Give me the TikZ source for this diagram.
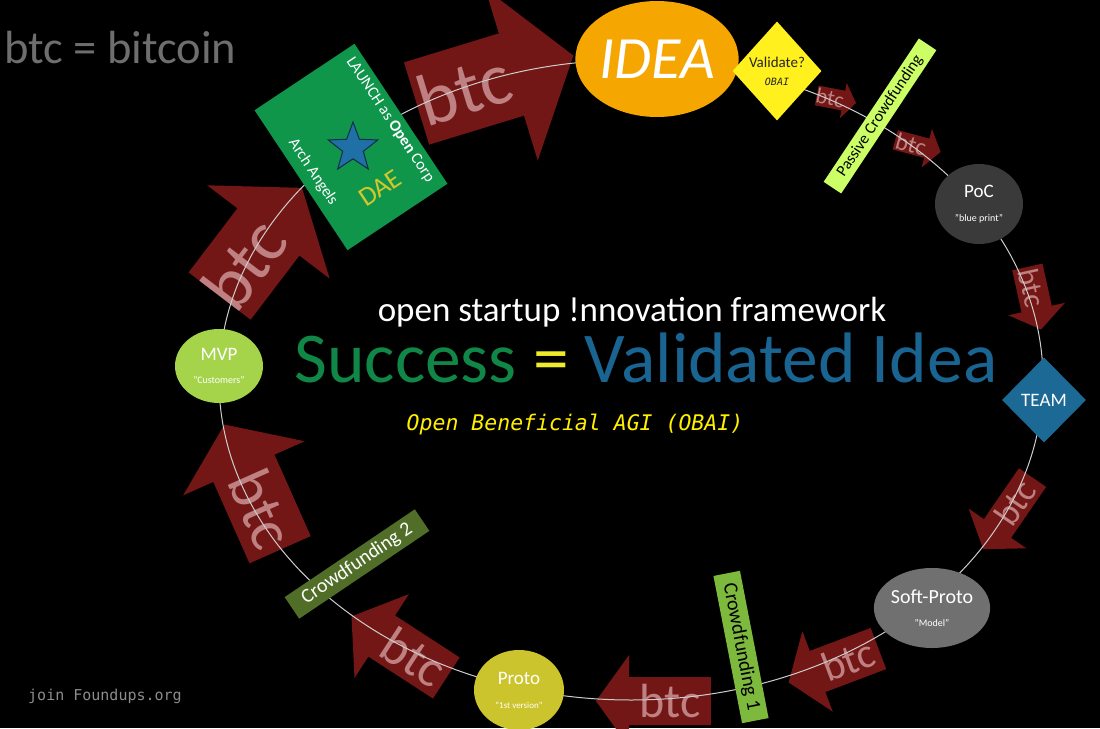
\documentclass[tikz,border=0pt]{standalone}
\usepackage{fontspec}
\setmainfont{Carlito}
\newfontfamily\obaifont{DejaVu Sans Mono}
\usetikzlibrary{shapes.geometric}

\definecolor{btcred}{RGB}{115,22,22}
\definecolor{btctext}{RGB}{190,128,128}
\definecolor{ringgray}{RGB}{205,205,205}
\definecolor{ideaorange}{RGB}{246,166,0}
\definecolor{validyellow}{RGB}{255,240,30}
\definecolor{passivegreen}{RGB}{204,255,102}
\definecolor{pocgray}{RGB}{58,58,58}
\definecolor{teamblue}{RGB}{28,105,150}
\definecolor{softgray}{RGB}{112,112,112}
\definecolor{protoyellow}{RGB}{204,196,44}
\definecolor{mvpgreen}{RGB}{165,212,75}
\definecolor{launchgreen}{RGB}{15,150,75}
\definecolor{crowdlime}{RGB}{125,185,60}
\definecolor{crowdolive}{RGB}{80,110,40}
\definecolor{starblue}{RGB}{32,112,168}
\definecolor{stardark}{RGB}{20,45,70}
\definecolor{daeyellow}{RGB}{212,199,42}
\definecolor{successgreen}{RGB}{16,135,70}
\definecolor{ideablue}{RGB}{25,100,145}
\definecolor{eqyellow}{RGB}{240,235,40}
\definecolor{obaiyellow}{RGB}{255,240,0}
\definecolor{legendgray}{RGB}{110,110,110}
\definecolor{joingray}{RGB}{140,140,140}

\newcommand\pxfont[1]{\fontsize{#1}{#1}\selectfont}

\begin{document}
\begin{tikzpicture}[x=1pt,y=-1pt,
    btclabel/.style={text=btctext, inner sep=0pt},
    stage/.style={ellipse, inner sep=0pt, text=white, align=center},
    band/.style={rectangle, inner sep=0pt, align=center},
    ring/.style={draw=ringgray, line width=1pt}]
    \useasboundingbox (0,0) rectangle (1100,728);
    \fill[black] (0,0) rectangle (1100,728);
    \clip (0,0) rectangle (1100,728);

    % btc arrows: name / x / y / text angle / flip / length / head / body / font
    \foreach \n/\x/\y/\r/\b/\len/\headw/\bodyw/\sz in {
        1/464/89/17/0/164/180/86/74,
        2/244/264/52.7/0/136/154/78/72,
        3/262/509/-66/180/137/133/67/62,
        4/414/657/-33/180/113/100/49/52,
        5/670/701/0/180/115/92/48/48,
        6/848/660/20.7/180/96/86/44/42,
        7/1015/503/55.5/180/87/70/33/36,
        8/1032/288/-77.6/0/64/58/31/30,
        9/830/98/-11/0/40/36/20/22,
        10/911/144/-15/0/47/40/20/24} {
        \pgfmathsetmacro{\dir}{\r+\b}
        \pgfmathsetmacro{\headl}{0.36*\headw}
        \pgfmathsetmacro{\halfl}{(\len-\headl)/2}
        \begin{scope}[shift={(\x,\y)}, rotate=\dir]
            \fill[btcred] (-\halfl,-\bodyw/2) -- (\halfl,-\bodyw/2) -- (\halfl,-\headw/2) -- (\halfl+\headl,0)
                -- (\halfl,\headw/2) -- (\halfl,\bodyw/2) -- (-\halfl,\bodyw/2) -- cycle;
        \end{scope}
        \node[btclabel, rotate=\r, font=\pxfont{\sz}] (btc\n) at (\x,\y) {btc};
    }

    % the cycle
    \draw[ring] (631,380) ellipse [x radius=412, y radius=320];

    % stages
    \node[stage, fill=ideaorange, minimum width=148, minimum height=116, font=\pxfont{60}\itshape] (idea) at (657,59) {IDEA};
    \node[diamond, fill=validyellow, minimum width=89, minimum height=99, inner sep=0pt, align=center,
          text=black!85, font=\pxfont{15}] (validate) at (777,71) {Validate?\\[3pt]{\obaifont\itshape\pxfont{10}OBAI}};
    \node[band, fill=passivegreen, rotate=56.4, minimum width=172, minimum height=21, font=\pxfont{16}] (passive) at (880,116) {Passive Crowdfunding};
    \node[stage, fill=pocgray, minimum width=88, minimum height=80, font=\pxfont{19}] (poc) at (979,204) {PoC\\[5pt]{\pxfont{10}"blue print"}};
    \node[diamond, fill=teamblue, minimum width=84, minimum height=85, inner sep=0pt, text=white, font=\pxfont{19}] (team) at (1044,400) {TEAM};
    \node[stage, fill=softgray, minimum width=89, minimum height=80, font=\pxfont{20}] (soft) at (932,608) {Soft-Proto\\[3pt]{\pxfont{10}"Model"}};
    \node[band, fill=crowdlime, rotate=-79, minimum width=150, minimum height=27, font=\pxfont{20}] (crowd1) at (741,647) {Crowdfunding 1};
    \node[stage, fill=protoyellow, minimum width=90, minimum height=80, font=\pxfont{19}] (proto) at (519,690) {Proto\\[5pt]{\pxfont{9}"1st version"}};
    \node[band, fill=crowdolive, rotate=34, minimum width=157, minimum height=26, text=white, font=\pxfont{20}] (crowd2) at (357,564) {Crowdfunding 2};
    \node[stage, fill=mvpgreen, minimum width=88, minimum height=74, font=\pxfont{19}] (mvp) at (219,366) {MVP\\[4pt]{\pxfont{10}"Customers"}};

    % launch card
    \node[rectangle, fill=launchgreen, rotate=-56.4, minimum width=168, minimum height=120] (launch) at (351,147) {};
    \node[text=white, rotate=-56.4, font=\pxfont{16}] (launchtxt) at (390,120) {LAUNCH as \textbf{Open} Corp};
    \node[text=white, rotate=-56.4, font=\pxfont{16}] (arch) at (313,172) {Arch Angels};
    \node[star, star points=5, star point ratio=2.4, fill=starblue, draw=stardark, line width=1pt,
          minimum size=52, inner sep=0pt] (star) at (353,148) {};
    \node[text=daeyellow, rotate=33.6, font=\pxfont{27}] (dae) at (380,188) {DAE};

    % centre texts
    \node[text=white, font=\pxfont{35}] (frame) at (632,312) {open startup !nnovation framework};
    \node[font=\pxfont{71.5}] (motto) at (646,358) {\textcolor{successgreen}{Success} \textcolor{eqyellow}{=} \textcolor{ideablue}{Validated Idea}};
    \node[text=obaiyellow, font=\obaifont\itshape\pxfont{21.5}] (obai) at (575,425) {Open Beneficial AGI (OBAI)};

    % corners
    \node[text=legendgray, font=\pxfont{46.5}, anchor=west, inner sep=0pt] (legend) at (4,48) {btc = bitcoin};
    \node[text=joingray, font=\obaifont\pxfont{15}, anchor=west, inner sep=0pt] (join) at (28,696) {join Foundups.org};
\end{tikzpicture}
\end{document}
